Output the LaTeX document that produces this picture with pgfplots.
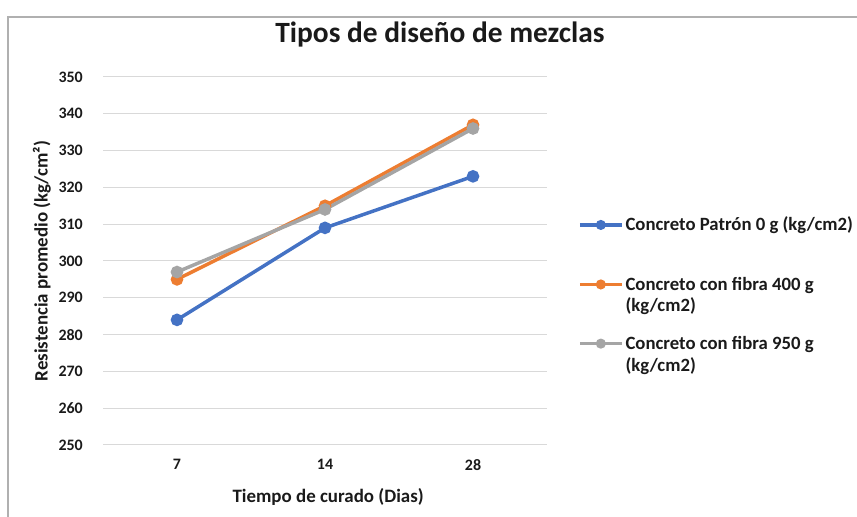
\documentclass[border=0pt]{standalone}
\usepackage{fontspec}
\setmainfont{Carlito}
\usepackage{pgfplots}
\pgfplotsset{compat=1.18}
\definecolor{cblue}{HTML}{4472C4}
\definecolor{corange}{HTML}{ED7D31}
\definecolor{cgray}{HTML}{A5A5A5}
\definecolor{cgrid}{HTML}{D9D9D9}
\definecolor{ctext}{HTML}{1A1A1A}
\definecolor{cframe}{HTML}{B0B0B0}
\begin{document}
\begin{tikzpicture}[x=1bp,y=1bp]
\useasboundingbox (0,0) rectangle (857,517);
\draw[color=cframe, line width=1.2bp] (8,0) -- (8,500) -- (857,500);
\node[font=\fontsize{29.5}{34}\selectfont\bfseries, text=ctext] at (440,482) {Tipos de diseño de mezclas};
\begin{axis}[
  at={(103bp,72bp)}, anchor=south west,
  scale only axis, width=444bp, height=368bp,
  xmin=-0.5, xmax=2.5, ymin=250, ymax=350,
  xtick={0,1,2}, xticklabels={7,14,28},
  ytick={250,260,...,350},
  axis line style={draw=none},
  major tick length=0pt,
  ymajorgrids, grid style={cgrid, line width=1bp},
  /pgf/number format/assume math mode=true,
  tick label style={font=\fontsize{16}{19}\selectfont\bfseries, text=ctext},
  yticklabel style={inner sep=0pt, xshift=-20bp},
  xticklabel style={inner sep=0pt, yshift=-14bp},
  xlabel={Tiempo de curado (Dias)},
  ylabel={Resistencia promedio (kg/cm²)},
  every axis x label/.style={at={(axis description cs:0.507,-0.1413)}, anchor=center, font=\fontsize{19}{22}\selectfont\bfseries, text=ctext},
  every axis y label/.style={at={(axis description cs:-0.1374,0.5)}, anchor=center, rotate=90, font=\fontsize{19}{22}\selectfont\bfseries, text=ctext},
  legend style={draw=none, fill=none, inner sep=0pt, outer sep=0pt,
    at={(axis description cs:1.07,0.625)}, anchor=north west,
    font=\fontsize{18.8}{22}\selectfont\bfseries, text=ctext,
    row sep=16bp,
    nodes={text width=240bp, align=flush left, text depth=26bp}},
  legend cell align=left,
  legend image code/.code={\draw[yshift=12bp, mark repeat=2, mark phase=2, #1, mark size=3.2bp] plot coordinates {(0bp,0bp) (21bp,0bp) (42bp,0bp)};},
  every axis plot/.append style={line width=3.5bp, mark=*, mark size=4.5bp},
]
\addplot[color=cblue, mark options={fill=cblue, draw=cblue}] coordinates {(0,284) (1,309) (2,323)};
\addlegendentry{Concreto Patrón 0 g (kg/cm2)}
\addplot[color=corange, mark options={fill=corange, draw=corange}] coordinates {(0,295) (1,315) (2,337)};
\addlegendentry{Concreto con fibra 400 g\\(kg/cm2)}
\addplot[color=cgray, mark options={fill=cgray, draw=cgray}] coordinates {(0,297) (1,314) (2,336)};
\addlegendentry{Concreto con fibra 950 g\\(kg/cm2)}
\end{axis}
\end{tikzpicture}
\end{document}
